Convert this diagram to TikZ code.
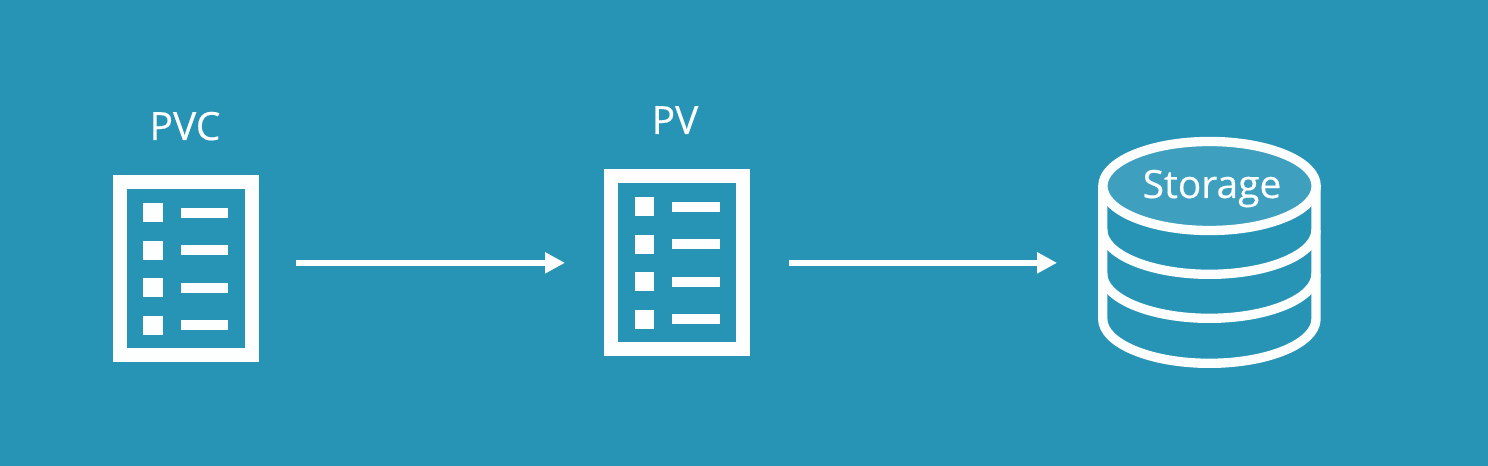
\documentclass[tikz,border=0pt]{standalone}
\usepackage{fontspec}
\setmainfont{Open Sans}[FakeBold=0.35]
\newfontfamily\capfont{Open Sans}[FakeBold=0.35]
\usetikzlibrary{arrows.meta,shapes.geometric}
\definecolor{bgblue}{HTML}{2793B5}
\definecolor{topblue}{HTML}{3EA0BE}
\definecolor{ink}{HTML}{FDFEFE}
\tikzset{
  docbox/.style={draw=ink,fill=bgblue,line width=10.5pt,minimum width=98.7pt,minimum height=129.6pt,inner sep=0pt},
  cyltop/.style={ellipse,draw=ink,fill=topblue,line width=7pt,minimum width=160pt,minimum height=66.8pt,inner sep=0pt},
  cylline/.style={draw=ink,line width=7pt},
  caption/.style={text=ink,font=\capfont\bfseries\fontsize{29.2pt}{30pt}\selectfont,anchor=base,inner sep=0pt},
  flow/.style={draw=ink,line width=4.4pt,-{Triangle[length=15pt,width=15pt]}}
}
\newcommand{\docmarks}[1]{%
  \foreach \dy in {-56.2,-18.7,18.7,56.2}{%
    \fill[ink] ([shift={(-42.4,\dy-9.5)}]#1.center) rectangle ([shift={(-22.9,\dy+9.5)}]#1.center);
    \fill[ink] ([shift={(-5,\dy-5)}]#1.center) rectangle ([shift={(42.6,\dy+5)}]#1.center);
  }}
\begin{document}
\begin{tikzpicture}[x=0.75pt,y=-0.75pt]
\useasboundingbox (0,0) rectangle (1488,466);
\fill[bgblue] (0,0) rectangle (1488,466);
\node[docbox] (pvc) at (185.85,268.85) {};
\docmarks{pvc}
\node[docbox] (pv) at (677.15,262.85) {};
\docmarks{pv}
\node[caption] (pvclabel) at (185,140) {\mdseries PVC};
\node[caption] (pvlabel) at (675,134) {\mdseries PV};
% cylinder
\draw[cylline,line join=round] (1102.7,186) -- (1102.7,318.8)
  arc[start angle=180,end angle=360,x radius=80pt,y radius=33.4pt] -- (1316.0,186);
\draw[cylline] (1102.7,229.8) arc[start angle=180,end angle=360,x radius=80pt,y radius=33.4pt];
\draw[cylline] (1102.7,273.8) arc[start angle=180,end angle=360,x radius=80pt,y radius=33.4pt];
\node[cyltop] (storage) at (1209.5,186) {};
\node[caption] (storagelabel) at (1212,198) {\mdseries Storage};
% connectors
\draw[flow,shorten <=28pt,shorten >=29.5pt] (pvc.east |- pv.west) -- (pv.west);
\draw[flow,shorten <=29.3pt,shorten >=30.8pt] (pv.east) -- (pv.east -| storage.west);
\end{tikzpicture}
\end{document}
